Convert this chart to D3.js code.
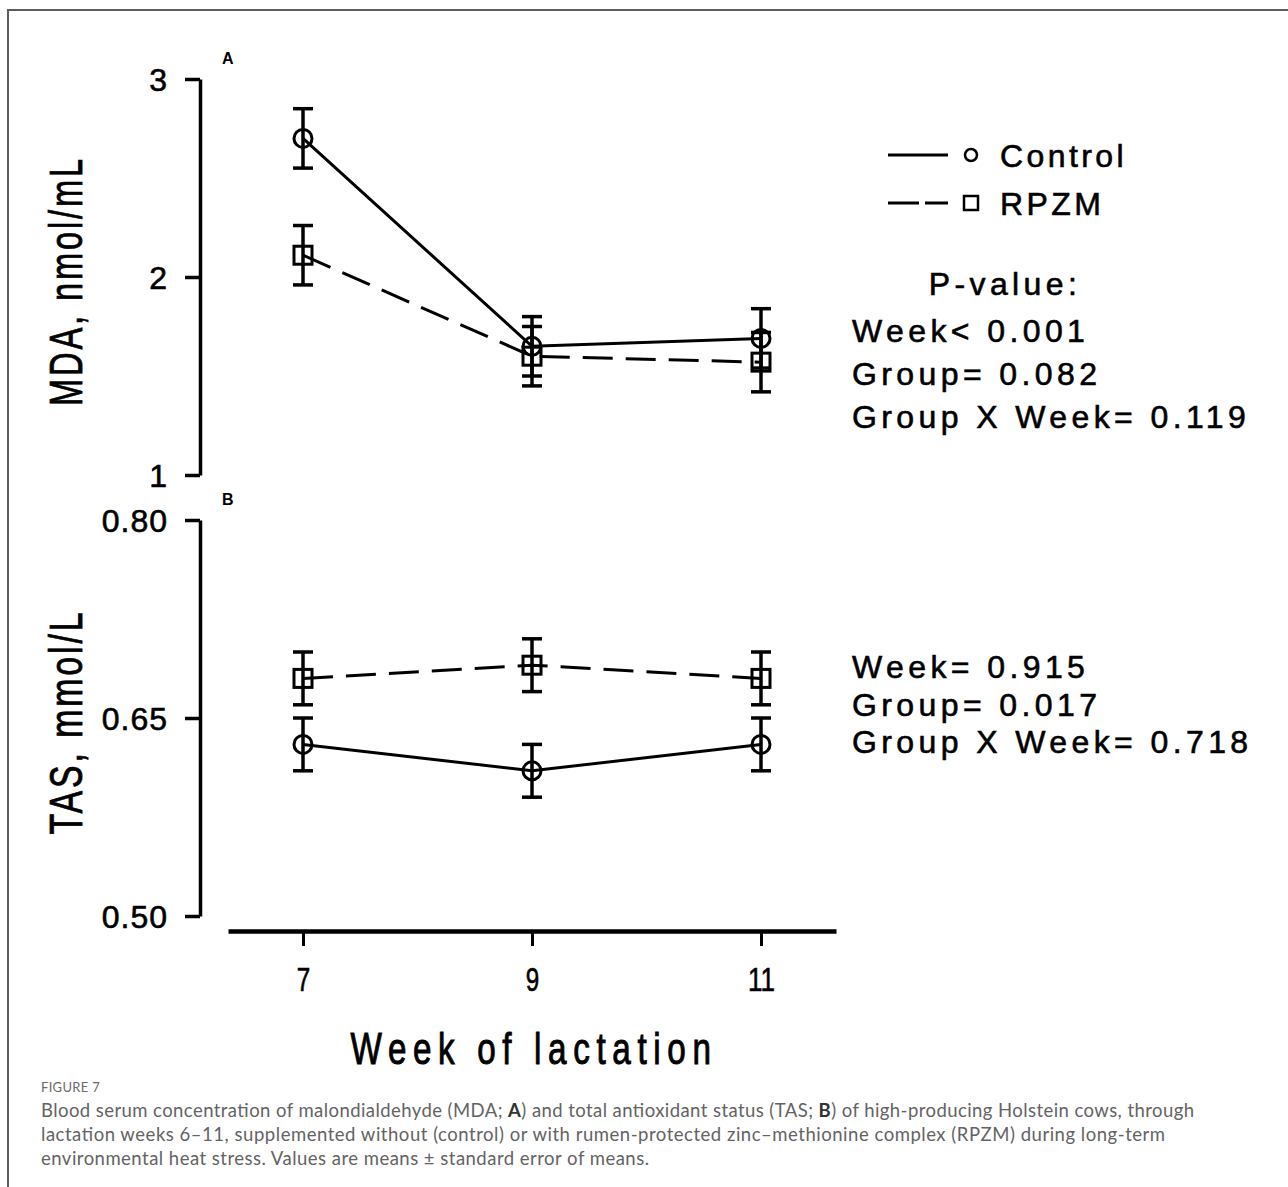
<!DOCTYPE html>
<html>
<head>
<meta charset="utf-8">
<script src="https://cdn.jsdelivr.net/npm/d3@7"></script>
<style>
    body{ margin: 0; background: #fff; }
    svg{ display: block; }
</style>
</head>
<body>
<div id="FigureView"></div>
<script>
// data
const weeks = [7, 9, 11];
const seriesNames = ['Control', 'RPZM'];

const mdaControl = [2.70, 1.65, 1.69];
const mdaControlSe = [0.15, 0.15, 0.15];
const mdaRpzm = [2.11, 1.60, 1.57];
const mdaRpzmSe = [0.15, 0.15, 0.15];
const mdaTicks = [1, 2, 3];

const tasControl = [0.63, 0.61, 0.63];
const tasControlSe = [0.02, 0.02, 0.02];
const tasRpzm = [0.68, 0.69, 0.68];
const tasRpzmSe = [0.02, 0.02, 0.02];
const tasTicks = [0.50, 0.65, 0.80];

const mdaStats = ['Week< 0.001', 'Group= 0.082', 'Group X Week= 0.119'];
const tasStats = ['Week= 0.915', 'Group= 0.017', 'Group X Week= 0.718'];

const captionTitle = 'FIGURE 7';
const captionLines = [
    'Blood serum concentration of malondialdehyde (MDA; A) and total antioxidant status (TAS; B) of high-producing Holstein cows, through',
    'lactation weeks 6\u201311, supplemented without (control) or with rumen-protected zinc\u2013methionine complex (RPZM) during long-term',
    'environmental heat stress. Values are means \u00b1 standard error of means.'
];

class FigureView{

    constructor(container){
        this.width = 1288;
        this.height = 1187;
        this.font = '"Liberation Sans", Arial, Helvetica, sans-serif';

        d3.select(container).html('');
        this.svg = d3.select(container).append('svg')
            .attr('width', this.width)
            .attr('height', this.height);

        this.axis_x = 200;
        this.x = d3.scaleLinear().domain([6.345, 11.655]).range([228, 836]);
    }

    draw(){
        //frame round the figure
        this.svg.append('path')
            .attr('d', `M8,${this.height} L8,10 L${this.width},10`)
            .attr('fill', 'none')
            .attr('stroke', '#5c5c5c')
            .attr('stroke-width', 2);

        let yA = d3.scaleLinear().domain([1, 3]).range([475, 79]);
        let yB = d3.scaleLinear().domain([0.5, 0.8]).range([916, 520]);

        this.drawPanel(yA, mdaTicks, d => d3.format('d')(d), 'MDA, nmol/mL', 250, 'A',
            [[mdaControl, mdaControlSe], [mdaRpzm, mdaRpzmSe]]);
        this.drawPanel(yB, tasTicks, d => d3.format('.2f')(d), 'TAS, mmol/L', 225, 'B',
            [[tasControl, tasControlSe], [tasRpzm, tasRpzmSe]]);

        this.drawXAxis();
        this.drawLegend();

        //p-values
        this.drawText(1005, 295, 'P-value:', 'middle');
        mdaStats.forEach((s, i)=>{ this.drawText(852, 342 + i * 43, s, 'start'); });
        tasStats.forEach((s, i)=>{ this.drawText(852, 678 + i * 37.5, s, 'start'); });

        this.drawCaption();
    }

    //heavier strokes, the original glyphs are thicker than plain Arial
    ink(sel, w){
        return sel.attr('fill', '#000').attr('stroke', '#000').attr('stroke-width', w);
    }

    drawText(x, y, str, anchor){
        let t = this.svg.append('text')
            .attr('x', x)
            .attr('y', y)
            .attr('text-anchor', anchor)
            .attr('font-family', this.font)
            .attr('font-size', 32)
            .attr('letter-spacing', 4.4)
            .text(str);
        this.ink(t, 0.6);
    }

    drawPanel(y, ticks, fmt, label, labelLen, letter, series){
        let g = this.svg.append('g');

        let axis = d3.axisLeft(y).tickValues(ticks).tickFormat(fmt).tickSize(15).tickSizeOuter(0).tickPadding(17);
        let ag = g.append('g').attr('transform', `translate(${this.axis_x},0)`).call(axis);
        ag.select('.domain').attr('stroke', '#000').attr('stroke-width', 3.5);
        ag.selectAll('.tick line').attr('stroke', '#000').attr('stroke-width', 3.5);
        this.ink(ag.selectAll('.tick text'), 0.6)
            .attr('font-family', this.font)
            .attr('font-size', 32)
            .attr('letter-spacing', 1)
            .attr('dy', '0.36em');

        //rotated axis title
        let mid = (y.range()[0] + y.range()[1]) / 2 + 4;
        let title = g.append('text')
            .attr('transform', `translate(82,${mid}) rotate(-90)`)
            .attr('text-anchor', 'middle')
            .attr('font-family', this.font)
            .attr('font-size', 46)
            .attr('letter-spacing', 4)
            .attr('textLength', labelLen)
            .attr('lengthAdjust', 'spacingAndGlyphs')
            .text(label);
        this.ink(title, 0.8);

        //panel letter
        g.append('text')
            .attr('x', 222)
            .attr('y', y.range()[1] - 15)
            .attr('font-family', this.font)
            .attr('font-weight', 'bold')
            .attr('font-size', 16)
            .text(letter);

        let line = d3.line().x((d, i)=>this.x(weeks[i])).y(d=>y(d));
        let dashes = ['none', '30,13'];

        series.forEach((s, k)=>{
            let values = s[0], se = s[1];

            g.append('path')
                .datum(values)
                .attr('d', line)
                .attr('fill', 'none')
                .attr('stroke', '#000')
                .attr('stroke-width', 3)
                .attr('stroke-dasharray', dashes[k]);

            //error bars
            let eb = g.append('g').selectAll('g').data(values).enter().append('g');
            eb.append('line')
                .attr('x1', (d, i)=>this.x(weeks[i]))
                .attr('x2', (d, i)=>this.x(weeks[i]))
                .attr('y1', (d, i)=>y(d - se[i]))
                .attr('y2', (d, i)=>y(d + se[i]));
            eb.append('line')
                .attr('x1', (d, i)=>this.x(weeks[i]) - 10)
                .attr('x2', (d, i)=>this.x(weeks[i]) + 10)
                .attr('y1', (d, i)=>y(d + se[i]))
                .attr('y2', (d, i)=>y(d + se[i]));
            eb.append('line')
                .attr('x1', (d, i)=>this.x(weeks[i]) - 10)
                .attr('x2', (d, i)=>this.x(weeks[i]) + 10)
                .attr('y1', (d, i)=>y(d - se[i]))
                .attr('y2', (d, i)=>y(d - se[i]));
            eb.selectAll('line').attr('stroke', '#000').attr('stroke-width', 3.5);

            //markers
            if(k == 0){
                g.append('g').selectAll('circle').data(values).enter()
                    .append('circle')
                    .attr('cx', (d, i)=>this.x(weeks[i]))
                    .attr('cy', d=>y(d))
                    .attr('r', 9)
                    .attr('fill', 'none')
                    .attr('stroke', '#000')
                    .attr('stroke-width', 3);
            }
            else{
                g.append('g').selectAll('rect').data(values).enter()
                    .append('rect')
                    .attr('x', (d, i)=>this.x(weeks[i]) - 9)
                    .attr('y', d=>y(d) - 9)
                    .attr('width', 18)
                    .attr('height', 18)
                    .attr('fill', 'none')
                    .attr('stroke', '#000')
                    .attr('stroke-width', 3);
            }
        });
    }

    drawXAxis(){
        let axis = d3.axisBottom(this.x).tickValues(weeks).tickFormat(d3.format('d')).tickSize(15).tickSizeOuter(0).tickPadding(22);
        let ag = this.svg.append('g').attr('transform', 'translate(0,931)').call(axis);
        ag.select('.domain').attr('stroke', '#000').attr('stroke-width', 4.5);
        ag.selectAll('.tick line').attr('stroke', '#000').attr('stroke-width', 3);
        //narrow labels like the original
        this.ink(ag.selectAll('.tick text'), 0.6)
            .attr('font-family', this.font)
            .attr('font-size', 33)
            .attr('textLength', d => String(d).length * 13.5)
            .attr('lengthAdjust', 'spacingAndGlyphs');

        let title = this.svg.append('text')
            .attr('x', 534)
            .attr('y', 1064)
            .attr('text-anchor', 'middle')
            .attr('font-family', this.font)
            .attr('font-size', 45)
            .attr('letter-spacing', 9)
            .attr('textLength', 367)
            .attr('lengthAdjust', 'spacingAndGlyphs')
            .text('Week of lactation');
        this.ink(title, 1);
    }

    drawLegend(){
        let rows = [155, 203];
        let lg = this.svg.append('g');

        lg.append('line').attr('x1', 888).attr('x2', 948).attr('y1', rows[0]).attr('y2', rows[0])
            .attr('stroke', '#000').attr('stroke-width', 3);
        lg.append('line').attr('x1', 888).attr('x2', 948).attr('y1', rows[1]).attr('y2', rows[1])
            .attr('stroke', '#000').attr('stroke-width', 3).attr('stroke-dasharray', '31,6');

        lg.append('circle').attr('cx', 971).attr('cy', rows[0]).attr('r', 6)
            .attr('fill', 'none').attr('stroke', '#000').attr('stroke-width', 2.5);
        lg.append('rect').attr('x', 964).attr('y', rows[1] - 7).attr('width', 14).attr('height', 14)
            .attr('fill', 'none').attr('stroke', '#000').attr('stroke-width', 2.5);

        seriesNames.forEach((name, i)=>{
            let t = lg.append('text')
                .attr('x', 1000)
                .attr('y', rows[i] + 12)
                .attr('font-family', this.font)
                .attr('font-size', 32)
                .attr('letter-spacing', 3.4)
                .text(name);
            this.ink(t, 0.6);
        });
    }

    drawCaption(){
        let cap = this.svg.append('g');
        cap.append('text')
            .attr('x', 41)
            .attr('y', 1092)
            .attr('font-family', 'Lato, "Open Sans", sans-serif')
            .attr('font-size', 13)
            .attr('letter-spacing', 0.3)
            .attr('fill', '#6a6a6a')
            .text(captionTitle);

        let lens = [1153, 1124, 608];
        captionLines.forEach((s, i)=>{
            let t = cap.append('text')
                .attr('x', 41)
                .attr('y', 1117 + i * 24)
                .attr('font-family', 'Lato, "Open Sans", sans-serif')
                .attr('font-size', 18.5)
                .attr('fill', '#636363')
                .attr('textLength', lens[i])
                .attr('lengthAdjust', 'spacing');
            //bold panel letters in the first line
            if(i == 0){
                let parts = s.split(/(\bA\)|\bB\))/);
                parts.forEach(p=>{
                    if(p == 'A)' || p == 'B)'){
                        t.append('tspan').attr('font-weight', 'bold').attr('fill', '#333').text(p[0]);
                        t.append('tspan').text(')');
                    }
                    else{
                        t.append('tspan').text(p);
                    }
                });
            }
            else{
                t.text(s);
            }
        });
    }
}

let view = new FigureView('#FigureView');
view.draw();
</script>
</body>
</html>
